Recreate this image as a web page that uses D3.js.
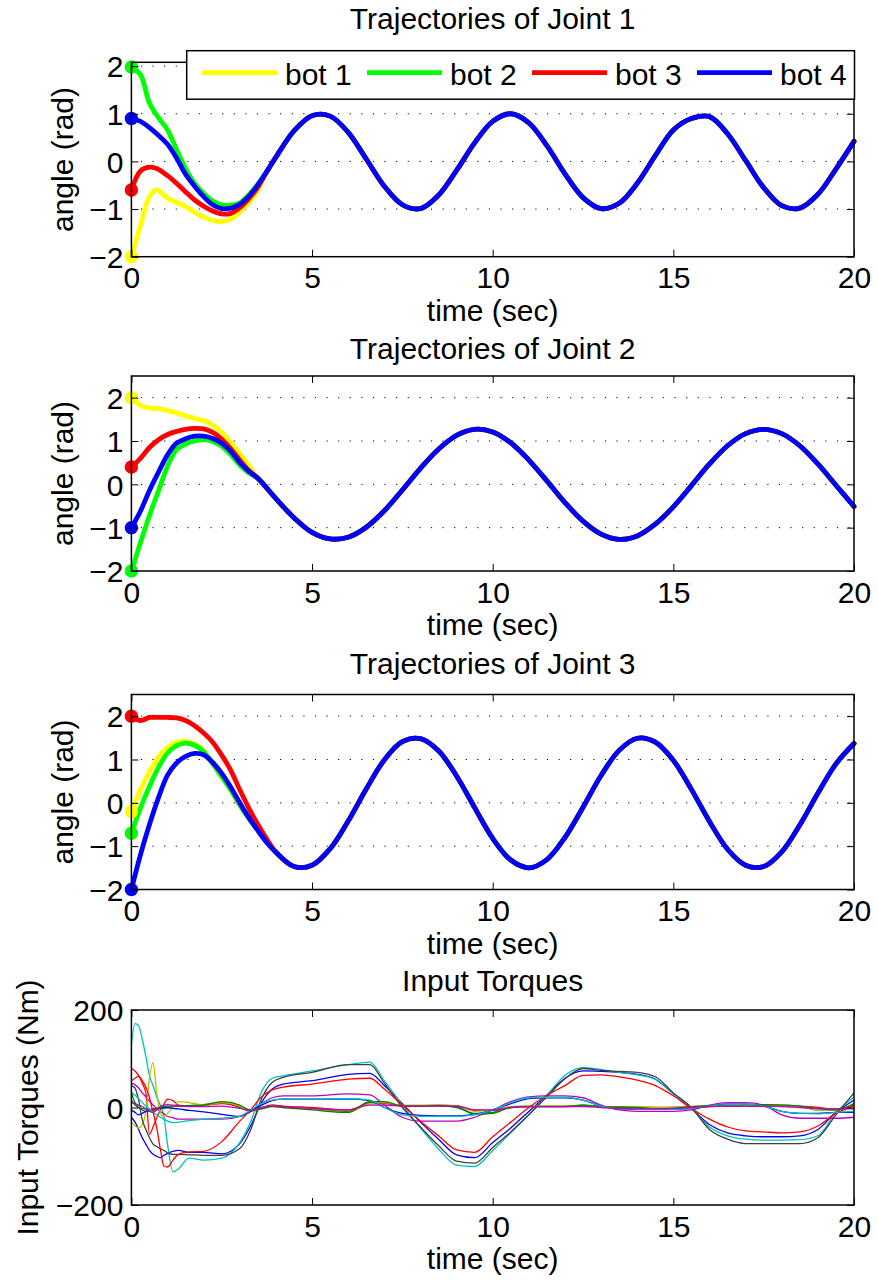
<!DOCTYPE html>
<html>
<head>
<meta charset="utf-8">
<script src="https://cdn.jsdelivr.net/npm/d3@7"></script>
<style>
  html, body { margin: 0; padding: 0; background: #ffffff; }
  svg { display: block; }
  text { font-family: "Liberation Sans", Arial, Helvetica, sans-serif; fill: #000; }
</style>
</head>
<body>
<svg id="chart" width="878" height="1280"></svg>
<script>
// ---------------- DATA ----------------
const botNames  = ["bot 1", "bot 2", "bot 3", "bot 4"];
const botColors = ["#ffff00", "#00ff00", "#ff0000", "#0000ff"];
const timeTicks = [0, 5, 10, 15, 20];
const angleTicks = [-2, -1, 0, 1, 2];
const torqueTicks = [-200, 0, 200];

// Joint 1 (transient per bot, then common trajectory)
const j1EarlyTime = [0, 0.25, 0.5, 0.7, 1.0, 1.25, 1.5, 1.75, 2.0, 2.25, 2.5, 2.75, 3.0, 3.25, 3.5];
const j1Bot1 = [-2.0, -1.35, -0.74, -0.6, -0.77, -0.86, -0.95, -1.07, -1.17, -1.24, -1.26, -1.21, -1.06, -0.86, -0.6];
const j1Bot2 = [1.98, 1.82, 1.22, 0.97, 0.66, 0.25, -0.15, -0.46, -0.67, -0.83, -0.91, -0.92, -0.87, -0.7, -0.48];
const j1Bot3 = [-0.6, -0.2, -0.12, -0.15, -0.3, -0.46, -0.64, -0.81, -0.94, -1.04, -1.1, -1.09, -0.97, -0.78, -0.54];
const j1Bot4 = [0.9, 0.84, 0.71, 0.58, 0.36, 0.07, -0.27, -0.52, -0.74, -0.91, -0.99, -0.98, -0.9, -0.73, -0.49];
const j1LateTime = [3.75, 4, 4.5, 5, 5.5, 6, 6.5, 7, 7.5, 8, 8.5, 9, 9.5, 10, 10.5, 11, 11.5, 12, 12.5, 13, 13.5, 14, 14.5, 15, 15.5, 16, 16.5, 17, 17.5, 18, 18.5, 19, 19.5, 20];
const j1Common = [-0.21, 0.09, 0.64, 0.96, 0.95, 0.61, 0.05, -0.52, -0.91, -0.99, -0.71, -0.19, 0.39, 0.84, 1.0, 0.81, 0.33, -0.26, -0.76, -0.99, -0.88, -0.46, 0.12, 0.66, 0.90, 0.94, 0.58, 0.02, -0.55, -0.93, -0.98, -0.69, -0.16, 0.42];

// Joint 2
const j2EarlyTime = [0, 0.25, 0.5, 0.75, 1.0, 1.25, 1.5, 1.75, 2.0, 2.25, 2.5, 2.75, 3.0, 3.25];
const j2Bot1 = [2.0, 1.82, 1.76, 1.75, 1.7, 1.65, 1.58, 1.52, 1.47, 1.37, 1.2, 0.96, 0.71, 0.43];
const j2Bot2 = [-2.0, -1.35, -0.72, -0.15, 0.42, 0.8, 0.93, 1.0, 1.03, 0.99, 0.88, 0.68, 0.44, 0.26];
const j2Bot3 = [0.4, 0.6, 0.85, 1.03, 1.15, 1.22, 1.27, 1.29, 1.28, 1.2, 1.04, 0.82, 0.56, 0.32];
const j2Bot4 = [-1.0, -0.62, -0.14, 0.28, 0.68, 0.95, 1.05, 1.11, 1.11, 1.06, 0.95, 0.76, 0.5, 0.3];
const j2LateTime = [3.5, 4, 4.5, 5, 5.5, 6, 6.5, 7, 7.5, 8, 8.5, 9, 9.5, 10, 10.5, 11, 11.5, 12, 12.5, 13, 13.5, 14, 14.5, 15, 15.5, 16, 16.5, 17, 17.5, 18, 18.5, 19, 19.5, 20];
const j2Common = [0.14, -0.33, -0.77, -1.11, -1.26, -1.22, -0.99, -0.61, -0.13, 0.37, 0.81, 1.13, 1.27, 1.21, 0.96, 0.56, 0.08, -0.42, -0.85, -1.15, -1.27, -1.19, -0.92, -0.52, -0.03, 0.47, 0.89, 1.17, 1.27, 1.17, 0.89, 0.47, -0.02, -0.51];

// Joint 3
const j3EarlyTime = [0, 0.25, 0.5, 0.75, 1.0, 1.25, 1.5, 1.75, 2.0, 2.25, 2.5, 2.75, 3.0, 3.25, 3.5, 3.75];
const j3Bot1 = [-0.2, 0.3, 0.72, 1.06, 1.28, 1.4, 1.42, 1.36, 1.2, 0.92, 0.61, 0.3, -0.05, -0.36, -0.62, -0.88];
const j3Bot2 = [-0.7, -0.12, 0.38, 0.82, 1.15, 1.32, 1.38, 1.33, 1.18, 0.9, 0.6, 0.3, -0.05, -0.36, -0.62, -0.88];
const j3Bot3 = [2.0, 1.9, 1.97, 1.97, 1.97, 1.96, 1.9, 1.78, 1.61, 1.4, 1.1, 0.75, 0.3, -0.12, -0.5, -0.84];
const j3Bot4 = [-2.0, -1.2, -0.5, 0.12, 0.64, 0.92, 1.07, 1.14, 1.11, 0.93, 0.68, 0.36, 0.0, -0.34, -0.64, -0.92];
const j3LateTime = [4, 4.5, 5, 5.5, 6, 6.5, 7, 7.5, 8, 8.5, 9, 9.5, 10, 10.5, 11, 11.5, 12, 12.5, 13, 13.5, 14, 14.5, 15, 15.5, 16, 16.5, 17, 17.5, 18, 18.5, 19, 19.5, 20];
const j3Common = [-1.14, -1.47, -1.44, -1.06, -0.42, 0.32, 0.99, 1.41, 1.48, 1.20, 0.62, -0.11, -0.82, -1.32, -1.50, -1.31, -0.80, -0.10, 0.63, 1.21, 1.49, 1.40, 0.98, 0.31, -0.43, -1.07, -1.44, -1.47, -1.13, -0.51, 0.22, 0.90, 1.37];

// Input torques (12 signals: 3 joints x 4 bots)
const torqueTime = [0, 0.1, 0.2, 0.3, 0.4, 0.5, 0.6, 0.7, 0.8, 0.9, 1.0, 1.15, 1.3, 1.6, 2.0, 2.5, 3.0, 3.3, 3.6, 3.9, 4.2, 5.0, 6.0, 6.6, 7.0, 7.5, 8.0, 8.5, 9.0, 9.5, 10.0, 10.5, 11.0, 11.5, 12.0, 12.5, 13.0, 13.5, 14.0, 14.5, 15.0, 15.5, 16.0, 16.5, 17.0, 17.5, 18.0, 18.5, 19.0, 19.5, 20.0];
const tauBot1J1 = [-20,-30,-45,-62,-75,-88,-96,-100,-103,-98,-94,-90,-88,-92,-92,-95,-74,-38,10,38,48,55,68,70,45,8,-30,-65,-97,-103,-72,-42,-8,25,60,75,74,72,68,58,28,-2,-35,-52,-58,-60,-60,-58,-45,-10,15];
const tauBot1J2 = [30,10,0,-5,-8,-8,-6,-5,-3,-2,0,2,3,4,6,10,0,-8,-2,5,2,-3,-8,10,10,3,3,4,0,-12,-10,2,3,3,3,5,2,0,0,-2,0,2,3,3,3,5,5,2,-5,-5,5];
const tauBot1J3 = [55,60,64,50,30,-55,-40,-21,-5,7,17,14,5,3,4,8,2,-5,0,5,3,0,-5,8,8,4,4,5,4,-6,-6,0,2,2,2,3,2,0,0,0,0,1,2,3,3,3,3,3,0,-3,5];
const tauBot2J1 = [130,172,168,140,105,65,45,22,5,-18,-75,-132,-126,-104,-108,-104,-72,-30,32,60,65,75,88,93,55,5,-42,-85,-118,-121,-88,-52,-15,25,66,82,78,72,67,58,28,-2,-40,-58,-65,-67,-67,-66,-58,-10,21];
const tauBot2J2 = [50,47,40,30,22,13,5,-2,-8,-13,-18,-21,-24,-24,-24,-24,-18,-8,8,20,24,24,28,26,5,-20,-28,-28,-28,-20,-5,12,22,24,24,20,5,-5,-8,-8,-8,-5,5,10,10,5,-15,-22,-22,-22,-20];
const tauBot2J3 = [-30,-38,-42,-35,-10,60,92,30,-10,-20,-12,0,12,10,5,10,3,-8,-3,3,0,-3,-10,8,10,5,5,5,3,-8,-5,2,3,3,3,4,2,2,2,0,0,2,3,4,4,5,4,2,-5,-5,3];
const tauBot3J1 = [45,40,15,-25,-45,-62,-75,-80,-85,-88,-93,-96,-96,-97,-98,-98,-84,-46,18,52,62,72,88,88,50,0,-40,-78,-110,-114,-82,-50,-15,22,59,80,76,74,72,63,30,0,-45,-65,-74,-74,-74,-74,-62,-15,30];
const tauBot3J2 = [-5,-10,-15,-12,-8,-5,-3,-2,-1,0,0,-2,-3,-6,-9,-14,-18,-8,5,14,17,17,17,14,0,-12,-16,-17,-17,-14,-5,8,18,20,20,15,3,-3,-4,-4,-4,-2,3,7,7,3,-8,-12,-12,-10,-10];
const tauBot3J3 = [15,5,0,-2,-3,-4,-4,-2,0,2,3,3,3,4,5,12,5,-6,-3,2,0,-5,-10,12,12,3,3,4,2,-14,-12,0,2,2,2,5,2,1,0,-3,-2,2,4,5,6,6,5,3,-2,-5,8];
const tauBot4J1 = [80,75,66,55,42,20,-10,-41,-85,-120,-122,-108,-96,-91,-90,-70,-28,-5,22,36,42,48,58,60,38,5,-28,-58,-87,-92,-60,-30,0,25,45,66,67,63,56,45,24,-2,-24,-40,-48,-50,-52,-50,-38,-12,3];
const tauBot4J2 = [30,25,18,10,3,-3,-10,-15,-20,-24,-28,-31,-30,-27,-24,-22,-18,-5,8,15,17,17,18,15,0,-15,-18,-18,-18,-15,-5,10,20,21,21,15,3,-3,-4,-4,-4,-2,3,6,7,3,-8,-12,-13,-10,-8];
const tauBot4J3 = [10,8,5,2,-3,-8,-10,-5,2,5,6,5,3,2,2,3,-2,-6,0,3,2,-2,-5,5,5,3,3,3,3,-5,-5,0,2,2,2,2,0,-2,-3,-3,-2,0,2,3,3,3,2,0,-2,-3,-3];
const torqueColors = ["#0000ff", "#008000", "#ff0000", "#00bfbf", "#bf00bf", "#bfbf00", "#404040", "#0000ff", "#008000", "#ff0000", "#00bfbf", "#bf00bf"];

// ---------------- BUILD ----------------
const svg = d3.select("#chart");
svg.append("rect").attr("width", 878).attr("height", 1280).attr("fill", "#fff");

const FONT = 30;
const xRange = [131.4, 854];

function zip(t, v) { return v.map((d, i) => [t[i], d]); }
function joinSeries(et, ev, lt, lv) { return zip(et, ev).concat(zip(lt, lv)); }

const jointSeries = [
  [j1Bot1, j1Bot2, j1Bot3, j1Bot4].map(a => joinSeries(j1EarlyTime, a, j1LateTime, j1Common)),
  [j2Bot1, j2Bot2, j2Bot3, j2Bot4].map(a => joinSeries(j2EarlyTime, a, j2LateTime, j2Common)),
  [j3Bot1, j3Bot2, j3Bot3, j3Bot4].map(a => joinSeries(j3EarlyTime, a, j3LateTime, j3Common))
];
const torqueSeries = [tauBot1J1, tauBot1J2, tauBot1J3, tauBot2J1, tauBot2J2, tauBot2J3,
                      tauBot3J1, tauBot3J2, tauBot3J3, tauBot4J1, tauBot4J2, tauBot4J3].map(a => zip(torqueTime, a));

const panels = [
  { title: "Trajectories of Joint 1", top: 62.3, bottom: 256.7, ydom: [-2, 2.08], titleY: 29.3, ticks: angleTicks, ylabel: "angle (rad)", ylabelX: 73, grid: true },
  { title: "Trajectories of Joint 2", top: 376, bottom: 571, ydom: [-2, 2.5], titleY: 359.3, ticks: angleTicks, ylabel: "angle (rad)", ylabelX: 73, grid: true },
  { title: "Trajectories of Joint 3", top: 694.5, bottom: 889.5, ydom: [-2, 2.5], titleY: 674.3, ticks: angleTicks, ylabel: "angle (rad)", ylabelX: 73, grid: true },
  { title: "Input Torques", top: 1010, bottom: 1205, ydom: [-200, 200], titleY: 990.7, ticks: torqueTicks, ylabel: "Input Torques (Nm)", ylabelX: 37.5, grid: false }
];

panels.forEach((p, pi) => {
  const x = d3.scaleLinear().domain([0, 20]).range(xRange);
  const y = d3.scaleLinear().domain(p.ydom).range([p.bottom, p.top]);
  const g = svg.append("g");

  // grid
  if (p.grid) {
    g.append("g").selectAll("line")
      .data(p.ticks.filter(v => y(v) > p.top + 0.5 && y(v) < p.bottom - 0.5))
      .join("line")
      .attr("x1", xRange[0]).attr("x2", xRange[1])
      .attr("y1", d => y(d)).attr("y2", d => y(d))
      .attr("stroke", "#000").attr("stroke-width", 1)
      .attr("stroke-dasharray", "1.2,10.4").attr("stroke-dashoffset", -9.5);
  }

  // data
  const clipId = "clip" + pi;
  svg.append("clipPath").attr("id", clipId).append("rect")
    .attr("x", xRange[0] - 8).attr("y", p.top - 8)
    .attr("width", xRange[1] - xRange[0] + 16).attr("height", p.bottom - p.top + 16);

  if (pi < 3) {
    const line = d3.line().x(d => x(d[0])).y(d => y(d[1])).curve(d3.curveCatmullRom.alpha(0.5));
    const series = jointSeries[pi];
    const dg = g.append("g").attr("clip-path", `url(#${clipId})`);
    dg.selectAll("path").data(series).join("path")
      .attr("d", line).attr("fill", "none")
      .attr("stroke", (d, i) => botColors[i]).attr("stroke-width", 4.8)
      .attr("stroke-linejoin", "round").attr("stroke-linecap", "round");
    dg.selectAll("circle").data(series).join("circle")
      .attr("cx", d => x(d[0][0])).attr("cy", d => y(d[0][1])).attr("r", 6.7)
      .attr("fill", (d, i) => botColors[i]);
  } else {
    const line = d3.line().x(d => x(d[0])).y(d => y(d[1])).curve(d3.curveMonotoneX);
    g.append("g").attr("clip-path", `url(#${clipId})`)
      .selectAll("path").data(torqueSeries).join("path")
      .attr("d", line).attr("fill", "none")
      .attr("stroke", (d, i) => torqueColors[i]).attr("stroke-width", 1.3)
      .attr("stroke-linejoin", "round");
  }

  // axes (inward ticks)
  const axB = g.append("g").attr("transform", `translate(0,${p.bottom})`)
    .call(d3.axisBottom(x).tickValues(timeTicks).tickSizeInner(-7).tickSizeOuter(0).tickFormat(d3.format("d")));
  const axT = g.append("g").attr("transform", `translate(0,${p.top})`)
    .call(d3.axisTop(x).tickValues(timeTicks).tickSizeInner(-7).tickSizeOuter(0).tickFormat(""));
  const axL = g.append("g").attr("transform", `translate(${xRange[0]},0)`)
    .call(d3.axisLeft(y).tickValues(p.ticks).tickSizeInner(-7).tickSizeOuter(0).tickFormat(d3.format("d")));
  const axR = g.append("g").attr("transform", `translate(${xRange[1]},0)`)
    .call(d3.axisRight(y).tickValues(p.ticks).tickSizeInner(-7).tickSizeOuter(0).tickFormat(""));
  [axB, axT, axL, axR].forEach(a => {
    a.select(".domain").remove();
    a.attr("font-family", null).attr("font-size", null);
    a.selectAll(".tick line").attr("stroke", "#000").attr("stroke-width", 1);
  });
  axB.selectAll(".tick text").attr("y", 31.5).attr("dy", null)
    .style("font-size", FONT + "px").attr("fill", "#000");
  axL.selectAll(".tick text").attr("x", -8).attr("dy", "0.36em")
    .style("font-size", FONT + "px").attr("fill", "#000");

  // frame
  g.append("rect")
    .attr("x", xRange[0]).attr("y", p.top)
    .attr("width", xRange[1] - xRange[0]).attr("height", p.bottom - p.top)
    .attr("fill", "none").attr("stroke", "#000").attr("stroke-width", 1.5);

  // labels
  const cx = (xRange[0] + xRange[1]) / 2;
  g.append("text").attr("x", cx).attr("y", p.titleY).attr("text-anchor", "middle")
    .style("font-size", FONT + "px").text(p.title);
  g.append("text").attr("x", cx).attr("y", p.bottom + 64).attr("text-anchor", "middle")
    .style("font-size", FONT + "px").text("time (sec)");
  const cy = (p.top + p.bottom) / 2;
  g.append("text").attr("transform", `translate(${p.ylabelX},${cy}) rotate(-90)`)
    .attr("text-anchor", "middle").style("font-size", FONT + "px").text(p.ylabel);

  // legend on first panel
  if (pi === 0) {
    const lg = svg.append("g");
    lg.append("rect").attr("x", 186.7).attr("y", 50.7).attr("width", 854.5 - 186.7).attr("height", 48.5)
      .attr("fill", "#fff").attr("stroke", "#000").attr("stroke-width", 1.5);
    const items = lg.selectAll("g.item").data(botNames).join("g").attr("class", "item")
      .attr("transform", (d, i) => `translate(${202 + 165 * i},0)`);
    items.append("line").attr("x1", 0).attr("x2", 75).attr("y1", 72.7).attr("y2", 72.7)
      .attr("stroke", (d, i) => botColors[i]).attr("stroke-width", 4.8);
    items.append("text").attr("x", 83).attr("y", 85).style("font-size", FONT + "px").text(d => d);
  }
});
</script>
</body>
</html>
